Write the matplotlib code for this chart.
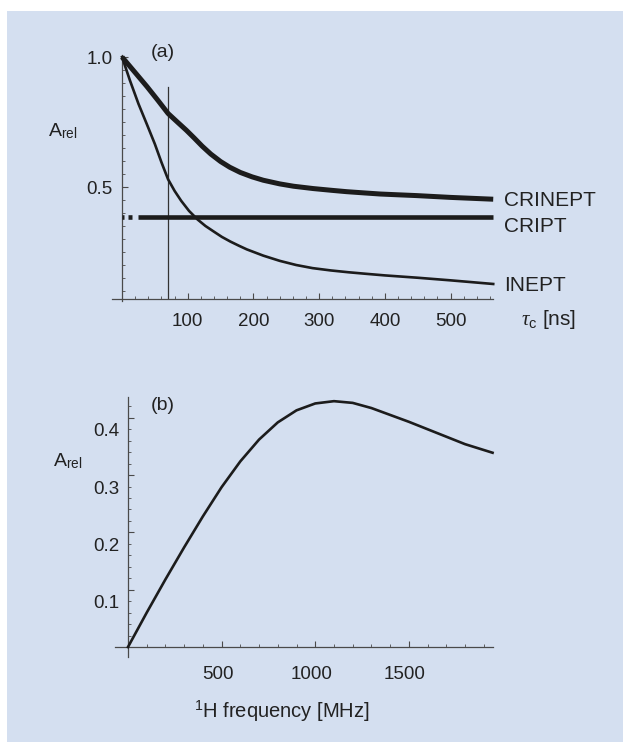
import matplotlib
matplotlib.use("Agg")
import matplotlib.pyplot as plt
import matplotlib.transforms as mtransforms
from matplotlib.patches import Rectangle

plt.rcParams['font.family'] = ['Liberation Sans', 'DejaVu Sans']
plt.rcParams['mathtext.fontset'] = 'custom'
plt.rcParams['mathtext.rm'] = 'Liberation Sans'
plt.rcParams['mathtext.it'] = 'Liberation Serif:italic'

# panel (a): relative signal vs correlation time tau_c [ns]
crinept_tau = [0, 20, 38, 55, 70, 85, 98, 110, 122, 135, 150, 164, 180, 198, 215, 240, 261, 291, 320, 342, 370, 393, 420, 448, 500, 565]
crinept_a = [1.0, 0.94, 0.886, 0.832, 0.783, 0.748, 0.718, 0.688, 0.657, 0.627, 0.598, 0.576, 0.556, 0.539, 0.526, 0.512, 0.503, 0.494, 0.487, 0.482, 0.477, 0.473, 0.470, 0.467, 0.460, 0.453]

inept_tau = [0, 12, 25, 38, 50, 60, 70, 80, 90, 102, 115, 127, 140, 152, 165, 178, 190, 215, 240, 265, 290, 318, 345, 372, 400, 450, 500, 565]
inept_a = [1.0, 0.91, 0.82, 0.74, 0.665, 0.595, 0.53, 0.485, 0.447, 0.408, 0.375, 0.350, 0.328, 0.308, 0.290, 0.274, 0.260, 0.236, 0.216, 0.200, 0.188, 0.179, 0.172, 0.166, 0.160, 0.151, 0.141, 0.127]

cript_level = 0.386
cript_segments = [(0, 3), (9, 15), (24, 565)]

tau_marker = 70
tau_marker_top = 0.886

# panel (b): relative signal vs 1H frequency [MHz]
freq = [0, 100, 200, 300, 400, 500, 600, 700, 800, 900, 1000, 1100, 1200, 1300, 1400, 1500, 1600, 1700, 1800, 1947]
freq_a = [0, 0.060, 0.118, 0.174, 0.228, 0.279, 0.324, 0.362, 0.392, 0.413, 0.425, 0.429, 0.426, 0.417, 0.405, 0.393, 0.380, 0.367, 0.354, 0.339]

line_c = '#1c1c1c'
axis_c = '#4a4a4a'
text_c = '#222222'
W, H = 623, 742

fig = plt.figure(figsize=(W / 100, H / 100), dpi=100)
fig.patch.set_facecolor('white')
fig.patches.append(Rectangle((7 / W, 0), 1 - 7 / W, 1 - 11 / H, transform=fig.transFigure,
                             facecolor='#d4dff0', edgecolor='none', zorder=-1))


def axes_px(x0, x1, y_top, y_bot):
    return [x0 / W, 1 - y_bot / H, (x1 - x0) / W, (y_bot - y_top) / H]


def style_axes(ax):
    ax.set_facecolor('none')
    for s in ['top', 'right']:
        ax.spines[s].set_visible(False)
    for s in ['left', 'bottom']:
        ax.spines[s].set_color(axis_c)
        ax.spines[s].set_linewidth(0.9)
    ax.tick_params(which='both', direction='in', colors=axis_c, labelcolor=text_c, labelsize=13.5)
    ax.tick_params(which='major', length=4, width=0.8)
    ax.tick_params(which='minor', length=2, width=0.6)


# ---- (a)
ax1 = fig.add_axes(axes_px(108.9, 496.5, 51.8, 304.0))
ax1.set_xlim(-20, 570)
ax1.set_ylim(0.05, 1.02)
style_axes(ax1)
ax1.spines['left'].set_position(('data', 0))
ax1.spines['bottom'].set_position(('data', 0.069))
ax1.spines['left'].set_bounds(0.06, 1.008)
ax1.spines['bottom'].set_bounds(-16, 565)
ax1.set_xticks([100, 200, 300, 400, 500])
ax1.set_xticks(range(20, 565, 20), minor=True)
ax1.set_yticks([0.5, 1.0])
ax1.set_yticklabels(['0.5', '1.0'])
ax1.set_yticks([0.1 + 0.05 * i for i in range(18)], minor=True)
ax1.tick_params(axis='x', pad=10)
ax1.tick_params(axis='y', pad=7)

ax1.plot(crinept_tau, crinept_a, color=line_c, lw=3.6, solid_capstyle='butt', solid_joinstyle='round', zorder=3)
ax1.plot(inept_tau, inept_a, color=line_c, lw=1.9, solid_joinstyle='round', zorder=3)
for x0, x1 in cript_segments:
    ax1.plot([x0, x1], [cript_level, cript_level], color=line_c, lw=3.3, solid_capstyle='butt', zorder=3)
ax1.plot([tau_marker, tau_marker], [0.075, tau_marker_top], color='#333333', lw=0.9, zorder=2)

ax1.text(581, 0.45, 'CRINEPT', fontsize=15, color=text_c, va='center')
ax1.text(581, 0.347, 'CRIPT', fontsize=15, color=text_c, va='center')
ax1.text(581, 0.123, 'INEPT', fontsize=15, color=text_c, va='center')
ax1.text(608, -0.008, r'$\it{\tau}_{\rm c}$ [ns]', fontsize=15, color=text_c, va='center')
ax1.text(62, 1.0165, '(a)', fontsize=14, color=text_c, ha='center', va='center')
ax1.text(-90, 0.715, r'A$_{\rm rel}$', fontsize=14, color=text_c, ha='center', va='center')

# ---- (b)
ax2 = fig.add_axes(axes_px(113.0, 495.0, 392.0, 658.5))
ax2.set_xlim(-80, 1960)
ax2.set_ylim(-0.02, 0.445)
style_axes(ax2)
ax2.spines['left'].set_position(('data', 0))
ax2.spines['bottom'].set_position(('data', 0))
ax2.spines['left'].set_bounds(-0.017, 0.437)
ax2.spines['bottom'].set_bounds(-70, 1950)
ax2.set_xticks([500, 1000, 1500])
ax2.set_xticks(range(100, 1950, 100), minor=True)
ax2.set_yticks([0.1, 0.2, 0.3, 0.4])
ax2.set_yticklabels(['0.1', '0.2', '0.3', '0.4'])
ax2.set_yticks([0.02 * i for i in range(1, 22)], minor=True)
ax2.tick_params(axis='x', pad=14)
ax2.tick_params(axis='y', pad=6)

ax2.plot(freq, freq_a, color=line_c, lw=1.9, solid_joinstyle='round', zorder=3)

ax2.text(820, -0.113, r'$^{\rm 1}$H frequency [MHz]', fontsize=14.5, color=text_c, ha='center', va='center')
ax2.text(185, 0.422, '(b)', fontsize=14, color=text_c, ha='center', va='center')
ax2.text(-320, 0.325, r'A$_{\rm rel}$', fontsize=14, color=text_c, ha='center', va='center')

# tick labels in the source sit a little off their ticks
dy = mtransforms.ScaledTranslation(0, -12 / 100, fig.dpi_scale_trans)
for lab in ax2.get_yticklabels():
    lab.set_transform(lab.get_transform() + dy)
dx = mtransforms.ScaledTranslation(-4 / 100, 0, fig.dpi_scale_trans)
for lab in ax2.get_xticklabels():
    lab.set_transform(lab.get_transform() + dx)

fig.savefig('out.png', dpi=100, facecolor=fig.get_facecolor())
